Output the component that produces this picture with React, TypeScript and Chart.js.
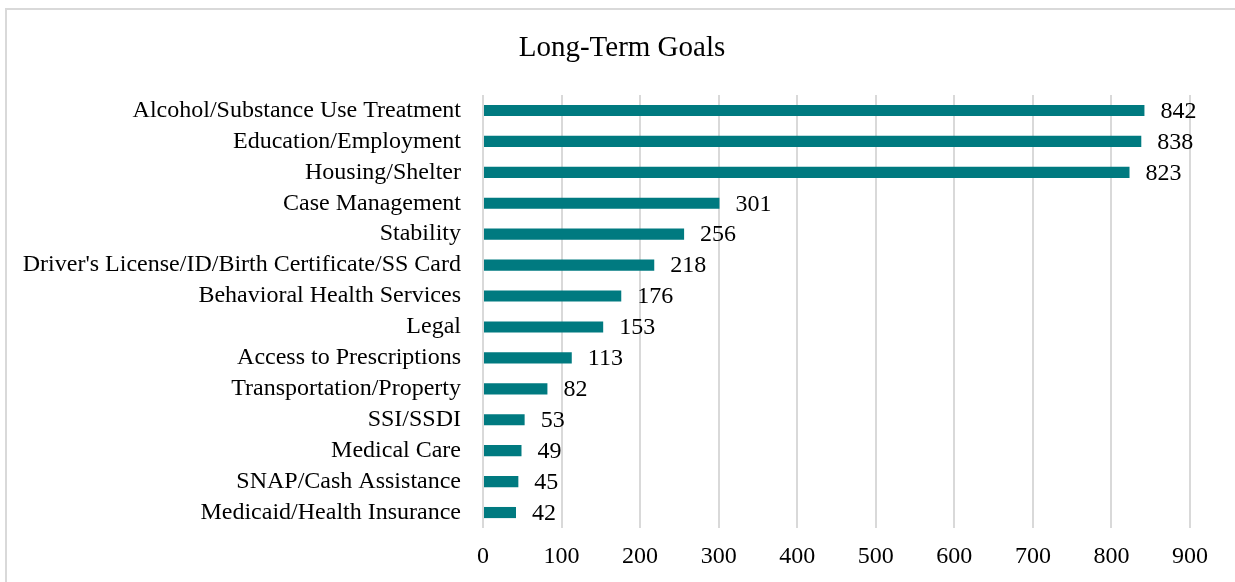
import React, { useEffect, useRef } from "react";
import { Chart, registerables } from "chart.js";

Chart.register(...registerables);

const categories = [
  "Alcohol/Substance Use Treatment",
  "Education/Employment",
  "Housing/Shelter",
  "Case Management",
  "Stability",
  "Driver's License/ID/Birth Certificate/SS Card",
  "Behavioral Health Services",
  "Legal",
  "Access to Prescriptions",
  "Transportation/Property",
  "SSI/SSDI",
  "Medical Care",
  "SNAP/Cash Assistance",
  "Medicaid/Health Insurance",
];

const values = [842, 838, 823, 301, 256, 218, 176, 153, 113, 82, 53, 49, 45, 42];

const xTicks = [0, 100, 200, 300, 400, 500, 600, 700, 800, 900];

const chartTitle = "Long-Term Goals";

const FONT = "'Liberation Serif', 'Times New Roman', serif";
const BAR_COLOR = "#007A80";

const decorPlugin = {
  id: "decor",
  beforeDraw(chart: any) {
    const ctx = chart.ctx;
    ctx.save();
    ctx.fillStyle = "#ffffff";
    ctx.fillRect(0, 0, chart.width, chart.height);
    ctx.strokeStyle = "#d9d9d9";
    ctx.lineWidth = 2;
    ctx.strokeRect(6, 9, chart.width + 20, chart.height + 20);
    ctx.restore();
  },
  afterDraw(chart: any) {
    const ctx = chart.ctx;
    ctx.save();
    ctx.fillStyle = "#000000";
    ctx.font = `29px ${FONT}`;
    ctx.textAlign = "center";
    ctx.textBaseline = "middle";
    ctx.fillText(chartTitle, 622, 48);
    ctx.restore();
  },
  afterDatasetsDraw(chart: any) {
    const ctx = chart.ctx;
    const meta = chart.getDatasetMeta(0);
    ctx.save();
    ctx.fillStyle = "#000000";
    ctx.font = `24px ${FONT}`;
    ctx.textAlign = "left";
    ctx.textBaseline = "middle";
    meta.data.forEach((bar: any, i: number) => {
      ctx.fillText(String(values[i]), bar.x + 16, bar.y + 1);
    });
    ctx.restore();
  },
};

export default function App() {
  const canvasRef = useRef<HTMLCanvasElement | null>(null);

  useEffect(() => {
    document.body.style.margin = "0";
    const canvas = canvasRef.current;
    if (!canvas) return;
    const chart = new Chart(canvas, {
      type: "bar",
      data: {
        labels: categories,
        datasets: [
          {
            data: values,
            backgroundColor: BAR_COLOR,
            borderWidth: 0,
            categoryPercentage: 1,
            barPercentage: 0.36,
          },
        ],
      },
      options: {
        indexAxis: "y",
        animation: false,
        responsive: false,
        maintainAspectRatio: false,
        devicePixelRatio: 1,
        layout: { padding: { left: 0, top: 95, right: 45, bottom: 0 } },
        plugins: {
          legend: { display: false },
          title: { display: false },
          tooltip: { enabled: false },
        },
        scales: {
          x: {
            type: "linear",
            min: 0,
            max: 900,
            afterBuildTicks: (scale: any) => {
              scale.ticks = xTicks.map((v) => ({ value: v }));
            },
            afterFit: (scale: any) => {
              scale.height = 54;
            },
            grid: {
              color: "#d9d9d9",
              lineWidth: 2,
              drawTicks: false,
            },
            border: { display: false },
            ticks: {
              padding: 14,
              color: "#000000",
              font: { family: FONT, size: 24 },
              maxRotation: 0,
            },
          },
          y: {
            afterFit: (scale: any) => {
              scale.width = 483;
            },
            grid: { display: false, drawTicks: false },
            border: { display: false },
            ticks: {
              padding: 22,
              color: "#000000",
              font: { family: FONT, size: 24 },
              autoSkip: false,
            },
          },
        },
      },
      plugins: [decorPlugin],
    });
    return () => chart.destroy();
  }, []);

  return (
    <div style={{ width: 1235, height: 582, position: "relative" }}>
      <canvas ref={canvasRef} width={1235} height={582} style={{ display: "block" }} />
    </div>
  );
}
